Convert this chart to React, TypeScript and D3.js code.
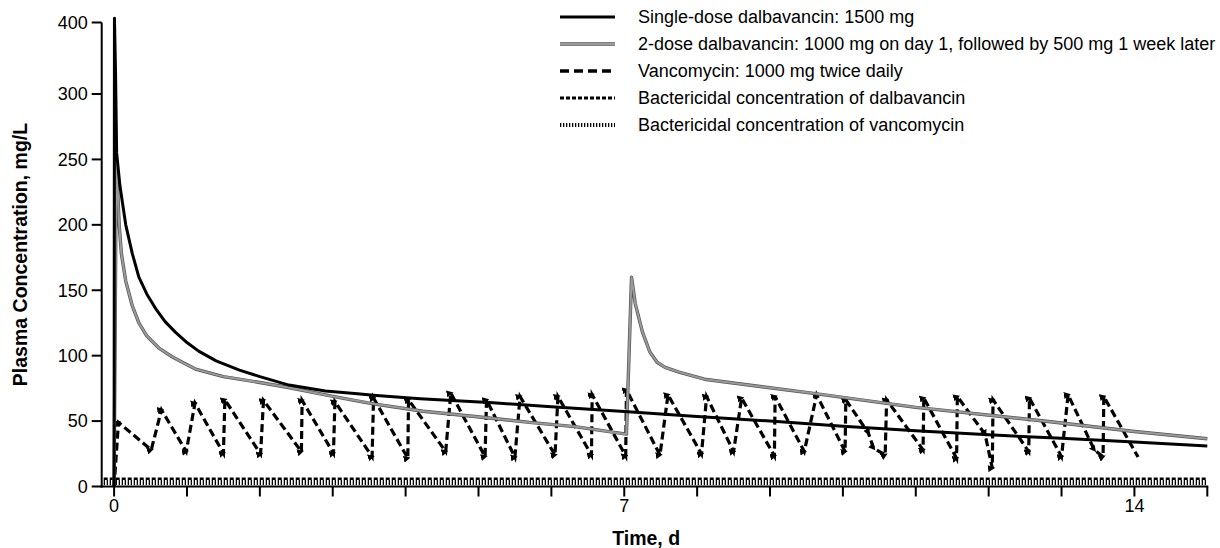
import React from 'react';
import * as d3 from 'd3';

// time in days, plasma concentration in mg/L
const singleDose: [number, number][] = [
  [0, 0], [0.005, 406], [0.02, 330], [0.035, 255], [0.08, 230], [0.12, 215], [0.16, 200],
  [0.25, 178], [0.34, 160], [0.45, 147], [0.57, 136], [0.7, 126], [0.84, 118], [1.0, 110],
  [1.16, 103.5], [1.4, 96], [1.72, 89], [2.0, 84], [2.4, 77.5], [2.9, 73], [3.3, 71],
  [3.6, 69.5], [4.2, 67], [5.2, 64], [6.0, 61], [7.0, 57.3], [8.0, 53.5], [9.0, 50],
  [10.0, 46], [11.0, 42.6], [12.0, 39.5], [13.0, 36.8], [14.0, 34], [15.0, 31],
];

const twoDose: [number, number][] = [
  [0, 0], [0.03, 250], [0.05, 225], [0.07, 200], [0.1, 178], [0.16, 157], [0.25, 138],
  [0.34, 125], [0.45, 115], [0.61, 106], [0.8, 99], [0.97, 94], [1.13, 89.5], [1.5, 84],
  [2.0, 79.5], [2.41, 75.5], [2.9, 70], [3.33, 65.5], [3.58, 63], [4.24, 57.5], [4.95, 53.5],
  [5.7, 49], [6.32, 45.8], [7.03, 40], [7.1, 160], [7.15, 140], [7.25, 118], [7.35, 103],
  [7.45, 95], [7.56, 91], [7.75, 87.5], [8.1, 82], [9.57, 71.4], [11.0, 60.5], [12.82, 49.7],
  [14.0, 42], [15.0, 36.5],
];

const vancomycin: [number, number][] = [
  [0, 0], [0.06, 49], [0.51, 28], [0.65, 58.6], [0.99, 26.7], [1.11, 63.7], [1.5, 25.4],
  [1.52, 66.3], [2.01, 24.9], [2.05, 65.8], [2.57, 26.7], [2.58, 65.8], [3.01, 25.4],
  [3.03, 64.9], [3.54, 22.8], [3.56, 67.6], [4.03, 21.6], [4.04, 66.3], [4.55, 26.7],
  [4.62, 71.4], [5.09, 22.8], [5.11, 66.3], [5.5, 22.4], [5.57, 68.8], [6.05, 24.1],
  [6.09, 68.8], [6.55, 24.1], [6.56, 70.1], [7.02, 23.4], [7.03, 73.9], [7.49, 24.1],
  [7.6, 70.1], [8.06, 24.9], [8.13, 68.8], [8.5, 26.7], [8.61, 67.6], [9.06, 23.4],
  [9.07, 68.8], [9.47, 26.7], [9.64, 70.1], [10.03, 26.7], [10.04, 66.3], [10.35, 40.8],
  [10.42, 29.3], [10.58, 24.1], [10.6, 66.3], [11.1, 28], [11.11, 67.6], [11.56, 21.6],
  [11.57, 68.8], [11.95, 40], [12.05, 14], [12.06, 66.3], [12.55, 26.7], [12.56, 67.6],
  [13.0, 22.8], [13.09, 70.1], [13.45, 28], [13.57, 22.8], [13.58, 68.8], [14.05, 22.5],
];

const bactericidalDalba = 6;
const bactericidalVanco = 3;

const yTicks = [0, 50, 100, 150, 200, 250, 300, 400];
const xTicks = d3.range(0, 16);
const xLabels = [0, 7, 14];

const legendLabels = [
  'Single-dose dalbavancin: 1500 mg',
  '2-dose dalbavancin: 1000 mg on day 1, followed by 500 mg 1 week later',
  'Vancomycin: 1000 mg twice daily',
  'Bactericidal concentration of dalbavancin',
  'Bactericidal concentration of vancomycin',
];

const font = '"Liberation Sans", Arial, sans-serif';

export default function App() {
  const x = d3.scaleLinear().domain([-0.17, 15]).range([101.7, 1207.3]);
  // axis is compressed above 300
  const y = d3.scaleLinear().domain([0, 300, 400]).range([486.5, 94, 22.5]);

  const line = d3.line<[number, number]>().x(d => x(d[0])).y(d => y(d[1]));

  const styles = [
    { stroke: '#000', width: 3, dash: undefined as string | undefined },
    { stroke: '#8a8a8a', width: 3, dash: undefined },
    { stroke: '#000', width: 3.5, dash: '9,5' },
    { stroke: '#000', width: 3, dash: '4,2' },
    { stroke: '#000', width: 4, dash: '1.3,1.7' },
  ];

  const x0 = x.range()[0];
  const x1 = x.range()[1];

  return (
    <svg width={1220} height={548} style={{ position: 'absolute', left: 0, top: 0, background: '#fff' }}
      fontFamily={font}>
      <defs>
        <marker id="tri" viewBox="0 0 10 10" refX={6} refY={5} markerWidth={7} markerHeight={7}
          markerUnits="userSpaceOnUse" orient="auto">
          <path d="M0,0 L10,5 L0,10 Z" fill="#000" />
        </marker>
      </defs>

      {/* bactericidal thresholds */}
      <line x1={x0 + 2} x2={x1} y1={y(bactericidalVanco)} y2={y(bactericidalVanco)}
        stroke="#000" strokeWidth={5} strokeDasharray="1.3,1.7" />
      <line x1={x0 + 2} x2={x1} y1={y(bactericidalDalba)} y2={y(bactericidalDalba)}
        stroke="#000" strokeWidth={2.5} strokeDasharray="4,2" />

      <path d={line(vancomycin) ?? ''} fill="none" stroke="#000" strokeWidth={3.2}
        strokeDasharray="8,4" strokeLinejoin="miter" markerMid="url(#tri)" />
      <path d={line(twoDose) ?? ''} fill="none" stroke="#555" strokeWidth={3.4} strokeLinejoin="round" />
      <path d={line(twoDose) ?? ''} fill="none" stroke="#9a9a9a" strokeWidth={2} strokeLinejoin="round" />
      <path d={line(singleDose) ?? ''} fill="none" stroke="#000" strokeWidth={3} strokeLinejoin="round" />

      {/* y axis */}
      <line x1={x0} x2={x0} y1={y(400)} y2={y(0) + 1} stroke="#000" strokeWidth={2} />
      {yTicks.map(t => (
        <g key={t}>
          <line x1={x0 - 10} x2={x0} y1={y(t)} y2={y(t)} stroke="#000" strokeWidth={2} />
          <text x={x0 - 14} y={y(t)} dy="0.35em" textAnchor="end" fontSize={18}>{t}</text>
        </g>
      ))}
      <text transform={`translate(27,${(y(0) + y(400)) / 2}) rotate(-90)`} textAnchor="middle"
        fontSize={19.5} fontWeight="bold">Plasma Concentration, mg/L</text>

      {/* x axis */}
      <line x1={x0 - 1} x2={x1 + 1} y1={y(0)} y2={y(0)} stroke="#000" strokeWidth={2} />
      {xTicks.map(t => (
        <line key={t} x1={x(t)} x2={x(t)} y1={y(0)} y2={y(0) + 10} stroke="#000" strokeWidth={2} />
      ))}
      {xLabels.map(t => (
        <text key={t} x={x(t)} y={512} textAnchor="middle" fontSize={18}>{t}</text>
      ))}
      <text x={x(7.3)} y={545} textAnchor="middle" fontSize={19.5} fontWeight="bold">Time, d</text>

      {/* legend */}
      {legendLabels.map((label, i) => {
        const ly = 17 + i * 27;
        const s = styles[i];
        return (
          <g key={label}>
            {i === 1 ? (
              <>
                <line x1={560} x2={615} y1={ly} y2={ly} stroke="#555" strokeWidth={3.4} />
                <line x1={560} x2={615} y1={ly} y2={ly} stroke="#9a9a9a" strokeWidth={2} />
              </>
            ) : (
              <line x1={560} x2={615} y1={ly} y2={ly} stroke={s.stroke} strokeWidth={s.width}
                strokeDasharray={s.dash} />
            )}
            <text x={638} y={ly} dy="0.35em" fontSize={18}>{label}</text>
          </g>
        );
      })}
    </svg>
  );
}
